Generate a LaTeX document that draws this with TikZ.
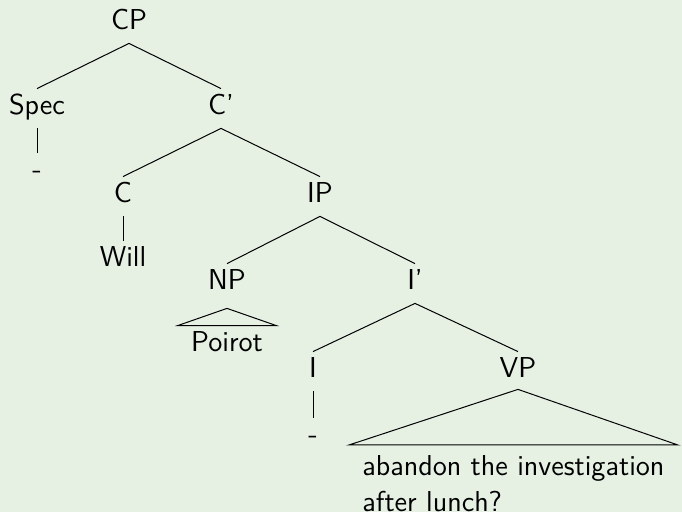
\documentclass[tikz,border=0pt]{standalone}
\usepackage{tikz}
\definecolor{paper}{RGB}{230,241,228}

\begin{document}
\begin{tikzpicture}
					[x=0.5pt,y=-0.5pt,
					cat/.style={anchor=base,text height=11.5pt,text depth=5pt,inner sep=1.5pt,font=\sffamily\Large},
					roofleaf/.style={cat,inner xsep=6.5pt},
					block/.style={anchor=north west,align=left,inner xsep=6.5pt,inner ysep=5pt,font=\sffamily\Large},
					branch/.style={-,line width=0.5pt}]
					\path[use as bounding box,fill=paper] (0,0) rectangle (682,512);
					\node[cat] (cp) at (129,30) {CP};
					\node[cat] (spec) at (37,115) {Spec};
					\node[cat] (specgap) at (37,179) {-};
					\node[cat] (cbar) at (221,115) {C'};
					\node[cat] (c) at (123,203) {C};
					\node[cat] (will) at (123,267) {Will};
					\node[cat] (ip) at (320,203) {IP};
					\node[cat] (np) at (227,290) {NP};
					\node[roofleaf] (poirot) at (227,352) {Poirot};
					\node[cat] (ibar) at (415,290) {I'};
					\node[cat] (i) at (313,378) {I};
					\node[cat] (igap) at (313,444) {-};
					\node[cat] (vp) at (518,378) {VP};
					\node[block] (vpleaf) at (349,445) {abandon the investigation\\after lunch?};
					\path[-] (cp.south) edge [branch] (spec.north);
					\path[-] (cp.south) edge [branch] (cbar.north);
					\path[-] (spec.south) edge [branch] (specgap.north);
					\path[-] (cbar.south) edge [branch] (c.north);
					\path[-] (cbar.south) edge [branch] (ip.north);
					\path[-] (c.south) edge [branch] (will.north);
					\path[-] (ip.south) edge [branch] (np.north);
					\path[-] (ip.south) edge [branch] (ibar.north);
					\path[-] (ibar.south) edge [branch] (i.north);
					\path[-] (ibar.south) edge [branch] (vp.north);
					\path[-] (i.south) edge [branch] (igap.north);
					% roofs over the unanalysed phrases
					\draw[branch] ([yshift=-2.5pt]np.south) -- (poirot.north east) -- (poirot.north west) -- cycle;
					\draw[branch] ([yshift=1pt]vp.south) -- (vpleaf.north east) -- (vpleaf.north west) -- cycle;
\end{tikzpicture}
\end{document}
